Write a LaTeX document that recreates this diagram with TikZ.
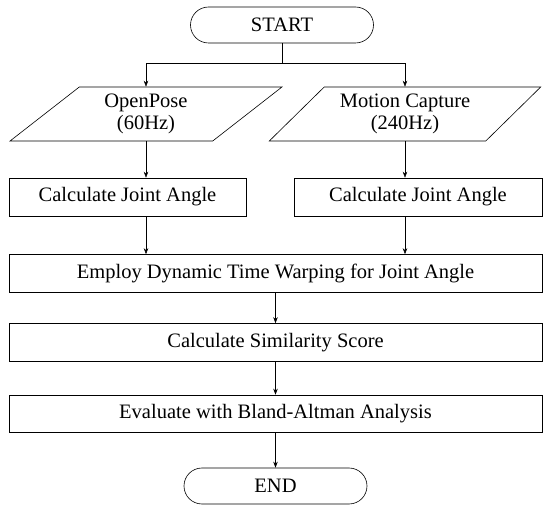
\documentclass[tikz,border=0pt]{standalone}
\usepackage{fontspec}
\setmainfont{Liberation Serif}
\usetikzlibrary{positioning,shapes.geometric,arrows.meta}
\tikzset{
  terminal/.style={
    draw,
    rectangle,
    rounded corners=18pt,
    minimum width=183pt,
    minimum height=36pt,
    line width=0.6pt,
  },
  process/.style={
    draw,
    rectangle,
    minimum height=38pt,
    line width=0.6pt,
  },
  iodata/.style={
    draw,
    trapezium,
    trapezium left angle=45,
    trapezium right angle=135,
    trapezium stretches=true,
    minimum width=272pt,
    minimum height=54pt,
    align=center,
    line width=0.6pt,
  },
  flow/.style={-{Stealth[length=6pt,width=4.5pt]}, line width=0.5pt},
  link/.style={line width=0.5pt},
}

\begin{document}
\begin{tikzpicture}[x=1pt, y=-1pt, font=\fontsize{20.5}{22}\selectfont]
  \useasboundingbox (0,0) rectangle (550,513);
  \node[terminal] (start) at (282,25) {START};
  \node[iodata] (openpose) at (146,114) {OpenPose\\(60Hz)};
  \node[iodata] (mocap) at (405,114) {Motion Capture\\(240Hz)};
  \node[process, minimum width=237pt] (angleL) at (127.5,197) {Calculate Joint Angle};
  \node[process, minimum width=248pt] (angleR) at (418,197) {Calculate Joint Angle};
  \node[process, minimum width=533pt] (dtw) at (275.5,273.5) {Employ Dynamic Time Warping for Joint Angle};
  \node[process, minimum width=533pt] (score) at (275.5,342.5) {Calculate Similarity Score};
  \node[process, minimum width=533pt, minimum height=37pt] (bland) at (275.5,413.5) {Evaluate with Bland-Altman Analysis};
  \node[terminal] (end) at (275.5,486) {END};

  % branch to both sources
  \coordinate (split) at (282,63);
  \draw[link] (start.south) -- (split);
  \draw[flow] (split) -| (openpose.center |- openpose.north);
  \draw[flow] (split) -| (mocap.center |- mocap.north);

  % two columns
  \foreach \src/\dst in {openpose/angleL, mocap/angleR} {
    \draw[flow] (\src.center |- \src.south) -- (\src.center |- \dst.north);
    \draw[flow] (\src.center |- \dst.south) -- (\src.center |- dtw.north);
  }

  % main chain
  \foreach \a/\b in {dtw/score, score/bland, bland/end}
    \draw[flow] (\a) -- (\b);
\end{tikzpicture}
\end{document}
